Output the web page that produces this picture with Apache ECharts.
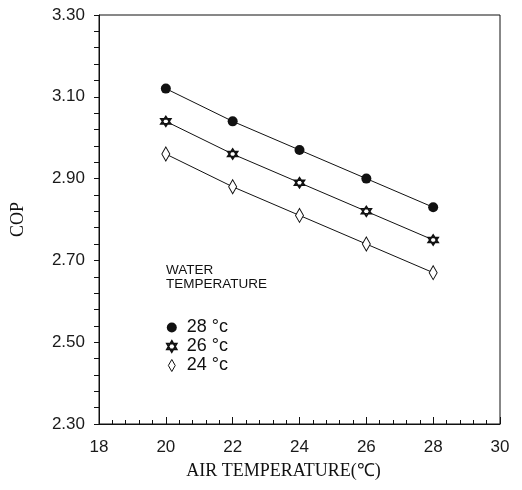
<!DOCTYPE html>
<html>
<head>
<meta charset="utf-8">
<title>COP vs air temperature</title>
<script src="https://cdn.jsdelivr.net/npm/echarts@6/dist/echarts.min.js"></script>
<style>
  html, body { margin: 0; padding: 0; background: #fff; }
  #chart { width: 522px; height: 490px; }
</style>
</head>
<body>
<div id="chart"></div>
<script>
// Air temperature (°C) on the x axis
const airTemp = [20, 22, 24, 26, 28];

// COP for each water temperature
const cop28 = [3.12, 3.04, 2.97, 2.90, 2.83];
const cop26 = [3.04, 2.96, 2.89, 2.82, 2.75];
const cop24 = [2.96, 2.88, 2.81, 2.74, 2.67];

const seriesNames = ['28 °c', '26 °c', '24 °c'];

// Labelled y ticks
const yTickLabels = [2.30, 2.50, 2.70, 2.90, 3.10, 3.30];

// y tick marks: five divisions between labelled values
const yTickMarks = [];
for (let i = 0; i < yTickLabels.length - 1; i++) {
  const a = yTickLabels[i], b = yTickLabels[i + 1];
  for (let k = 0; k < 5; k++) yTickMarks.push(+(a + (b - a) * k / 5).toFixed(4));
}
yTickMarks.push(yTickLabels[yTickLabels.length - 1]);

const HEXAGRAM = 'path://M0,-10 L8.66,5 L-8.66,5 Z M0,10 L-8.66,-5 L8.66,-5 Z';
const DIAMOND = 'path://M0,-7 L4,0 L0,7 L-4,0 Z';

const sans = '"Liberation Sans", Arial, sans-serif';
const serif = '"Liberation Serif", "Times New Roman", serif';

function pairs(ys) {
  return airTemp.map((x, i) => [x, ys[i]]);
}

const chart = echarts.init(document.getElementById('chart'), null, { renderer: 'canvas' });

chart.setOption({
  animation: false,
  backgroundColor: '#fff',
  grid: {
    left: 99, right: 22, top: 15, bottom: 66,
    show: true, borderColor: '#111', borderWidth: 1
  },
  xAxis: {
    type: 'value',
    min: 18, max: 30, interval: 2,
    name: 'AIR TEMPERATURE(℃)',
    nameLocation: 'middle',
    nameGap: 38,
    nameTextStyle: { fontFamily: serif, fontSize: 18, color: '#111', padding: [0, 32, 0, 0] },
    axisLine: { show: true, lineStyle: { color: '#111', width: 1 } },
    axisTick: { show: true, inside: true, length: 7, lineStyle: { color: '#111' } },
    minorTick: { show: true, splitNumber: 5, length: 4, lineStyle: { color: '#111' } },
    axisLabel: { fontFamily: sans, fontSize: 17, color: '#1a1a1a', margin: 15 },
    splitLine: { show: false },
    minorSplitLine: { show: false }
  },
  yAxis: {
    type: 'value',
    min: 2.3, max: 3.3,
    name: 'COP',
    nameLocation: 'middle',
    nameGap: 72,
    nameTextStyle: { fontFamily: serif, fontSize: 18, color: '#111' },
    axisLine: { show: true, lineStyle: { color: '#111', width: 1 } },
    axisTick: { show: true, inside: false, length: 5, customValues: yTickMarks, lineStyle: { color: '#111' } },
    axisLabel: {
      fontFamily: sans, fontSize: 17, color: '#1a1a1a', margin: 14,
      customValues: yTickLabels,
      formatter: v => v.toFixed(2)
    },
    splitLine: { show: false }
  },
  legend: {
    orient: 'vertical',
    left: 161,
    top: 313,
    itemWidth: 10,
    itemHeight: 12,
    itemGap: 0,
    textStyle: { fontFamily: sans, fontSize: 18, color: '#111', lineHeight: 19, padding: [0, 0, 0, 5] },
    data: [
      { name: seriesNames[0], icon: 'circle', itemStyle: { color: '#111', borderWidth: 0 } },
      { name: seriesNames[1], icon: HEXAGRAM, itemStyle: { color: '#fff', borderColor: '#111', borderWidth: 1.6 } },
      { name: seriesNames[2], icon: DIAMOND, itemStyle: { color: '#fff', borderColor: '#111', borderWidth: 1 } }
    ]
  },
  graphic: [{
    type: 'text',
    left: 166,
    top: 263,
    style: {
      text: 'WATER\nTEMPERATURE',
      font: '13.5px ' + sans,
      lineHeight: 14,
      fill: '#111'
    }
  }],
  series: [
    {
      name: seriesNames[0], type: 'line', data: pairs(cop28),
      symbol: 'circle', symbolSize: 10,
      itemStyle: { color: '#111' },
      lineStyle: { color: '#111', width: 1 }
    },
    {
      name: seriesNames[1], type: 'line', data: pairs(cop26),
      symbol: HEXAGRAM, symbolSize: 10,
      itemStyle: { color: '#fff', borderColor: '#111', borderWidth: 1.6 },
      lineStyle: { color: '#111', width: 1 }
    },
    {
      name: seriesNames[2], type: 'line', data: pairs(cop24),
      symbol: DIAMOND, symbolSize: [8, 14],
      itemStyle: { color: '#fff', borderColor: '#111', borderWidth: 1 },
      lineStyle: { color: '#111', width: 1 }
    }
  ]
});
</script>
</body>
</html>
